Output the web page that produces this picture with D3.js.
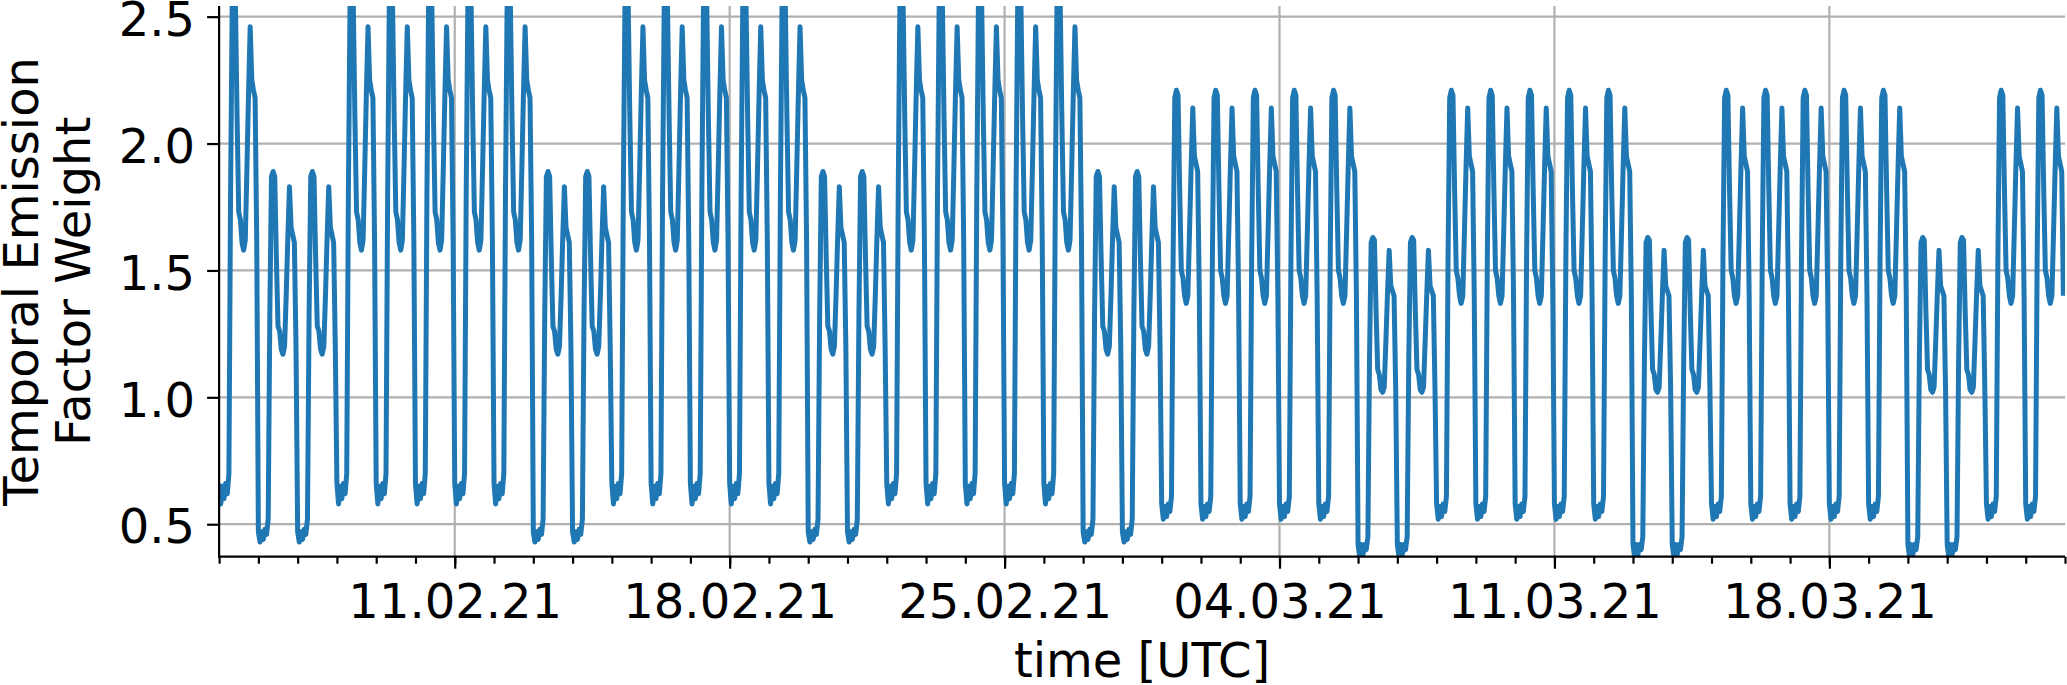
<!DOCTYPE html>
<html><head><meta charset="utf-8">
<script src="https://cdn.jsdelivr.net/npm/d3@7/dist/d3.min.js"></script>
<style>
html,body{margin:0;padding:0;background:#fff;}
svg{display:block;}
</style></head><body>
<svg id="chart" width="2067" height="685"></svg>
<script>
// ---------------- data ----------------
const startDay = "2021-02-05T00:00:00Z";
const endDay = "2021-03-24T00:00:00Z";
// hourly weights (UTC hours 0..23) for each kind of day
const febWeekday = [0.66,0.58,0.65,0.60,0.66,0.62,0.70,1.80,2.55,2.57,2.55,2.10,1.73,1.70,1.61,1.58,1.62,1.90,2.20,2.46,2.25,2.21,2.18,1.62];
const febWeekend = [0.47,0.43,0.47,0.44,0.48,0.46,0.52,1.33,1.87,1.89,1.87,1.55,1.28,1.26,1.19,1.17,1.20,1.40,1.63,1.83,1.67,1.64,1.61,1.20];
const marWeekday = [0.58,0.52,0.57,0.53,0.58,0.55,0.61,1.56,2.18,2.21,2.19,1.82,1.50,1.47,1.40,1.37,1.40,1.65,1.91,2.14,1.95,1.92,1.89,1.40];
const marWeekend = [0.42,0.37,0.42,0.38,0.42,0.40,0.45,1.15,1.61,1.63,1.62,1.34,1.11,1.09,1.03,1.02,1.04,1.22,1.41,1.58,1.44,1.42,1.40,1.04];
// day kinds from 05.02.21 to 23.03.21 (FD = Feb weekday, FE = Feb weekend, MD = Mar weekday, ME = Mar weekend)
const dayKinds = [
  "FD",                         // 05.02 Fri
  "FE","FE",                    // 06-07.02
  "FD","FD","FD","FD","FD",     // 08-12.02
  "FE","FE",                    // 13-14.02
  "FD","FD","FD","FD","FD",     // 15-19.02
  "FE","FE",                    // 20-21.02
  "FD","FD","FD","FD","FD",     // 22-26.02
  "FE","FE",                    // 27-28.02
  "MD","MD","MD","MD","MD",     // 01-05.03
  "ME","ME",                    // 06-07.03
  "MD","MD","MD","MD","MD",     // 08-12.03
  "ME","ME",                    // 13-14.03
  "MD","MD","MD","MD","MD",     // 15-19.03
  "ME","ME",                    // 20-21.03
  "MD","MD"                     // 22-23.03
];
const majorTickDates = ["2021-02-11","2021-02-18","2021-02-25","2021-03-04","2021-03-11","2021-03-18"];
const yTicks = [0.5, 1.0, 1.5, 2.0, 2.5];
const yDomain = [0.372, 2.542];
const yLabelLines = ["Temporal Emission", "Factor Weight"];
const xLabel = "time [UTC]";

// ---------------- build series ----------------
const profileOf = {FD: febWeekday, FE: febWeekend, MD: marWeekday, ME: marWeekend};
const t0 = new Date(startDay);
const series = [];
dayKinds.forEach((k, i) => {
  const dayStart = d3.utcDay.offset(t0, i);
  profileOf[k].forEach((v, h) => {
    series.push({t: d3.utcHour.offset(dayStart, h), v: v});
  });
});

// ---------------- layout ----------------
const L = 219.1, R = 2065, T = 6, B = 556.7;
const FONT = "'DejaVu Sans', sans-serif";
const FS = 48;
const svg = d3.select("#chart");
svg.append("rect").attr("width", 2067).attr("height", 685).attr("fill", "#fff");

const x = d3.scaleUtc().domain([t0, new Date(endDay)]).range([L, R]);
const y = d3.scaleLinear().domain(yDomain).range([B, T]);

svg.append("defs").append("clipPath").attr("id", "clip")
  .append("rect").attr("x", L).attr("y", T).attr("width", R - L).attr("height", B - T);

// grid
const grid = svg.append("g");
grid.selectAll("line.h").data(yTicks).join("line")
  .attr("x1", L).attr("x2", R)
  .attr("y1", d => y(d)).attr("y2", d => y(d))
  .attr("stroke", "#b0b0b0").attr("stroke-width", 2.2);
const majorDates = majorTickDates.map(s => new Date(s + "T00:00:00Z"));
grid.selectAll("line.v").data(majorDates).join("line")
  .attr("x1", d => x(d)).attr("x2", d => x(d))
  .attr("y1", T).attr("y2", B)
  .attr("stroke", "#b0b0b0").attr("stroke-width", 2.2);

// series line
const line = d3.line().x(d => x(d.t)).y(d => y(d.v));
svg.append("path").datum(series)
  .attr("clip-path", "url(#clip)")
  .attr("d", line)
  .attr("fill", "none")
  .attr("stroke", "#1f77b4")
  .attr("stroke-width", 5)
  .attr("stroke-linejoin", "round")
  .attr("stroke-linecap", "butt");

// minor ticks (daily)
const minorAxis = d3.axisBottom(x).tickValues(d3.utcDay.range(t0, d3.utcDay.offset(new Date(endDay), 1)))
  .tickSize(7).tickSizeOuter(0).tickFormat("");
const gMinor = svg.append("g").attr("transform", `translate(0,${B})`).call(minorAxis);
gMinor.select(".domain").remove();
gMinor.selectAll(".tick line").attr("stroke", "#000").attr("stroke-width", 2.2);

// x axis (major)
const xAxis = d3.axisBottom(x).tickValues(majorDates)
  .tickFormat(d3.utcFormat("%d.%m.%y")).tickSize(12).tickSizeOuter(0).tickPadding(15.5);
const gx = svg.append("g").attr("transform", `translate(0,${B})`).call(xAxis);
gx.select(".domain").attr("stroke", "#000").attr("stroke-width", 2.2)
  .attr("d", `M${L - 1.1},0H${R}`);
gx.selectAll(".tick line").attr("stroke", "#000").attr("stroke-width", 2.2);
gx.selectAll(".tick text").attr("font-family", FONT).attr("font-size", FS).attr("fill", "#000");

// y axis
const yAxis = d3.axisLeft(y).tickValues(yTicks).tickFormat(d3.format(".1f"))
  .tickSize(12).tickSizeOuter(0).tickPadding(12);
const gy = svg.append("g").attr("transform", `translate(${L},0)`).call(yAxis);
gy.select(".domain").attr("stroke", "#000").attr("stroke-width", 2.2)
  .attr("d", `M0,${T}V${B + 1.1}`);
gy.selectAll(".tick line").attr("stroke", "#000").attr("stroke-width", 2.2);
gy.selectAll(".tick text").attr("font-family", FONT).attr("font-size", FS).attr("fill", "#000")
  .attr("dy", "0.39em");

// axis labels
svg.append("text")
  .attr("x", (L + R) / 2).attr("y", 676.7)
  .attr("text-anchor", "middle")
  .attr("font-family", FONT).attr("font-size", FS).attr("fill", "#000")
  .text(xLabel);

const yl = svg.append("text")
  .attr("transform", "rotate(-90)")
  .attr("text-anchor", "middle")
  .attr("font-family", FONT).attr("font-size", FS).attr("fill", "#000");
const yBase = [38, 90];
yLabelLines.forEach((s, i) => {
  yl.append("tspan").attr("x", -(T + B) / 2).attr("y", yBase[i]).text(s);
});
</script>
</body></html>
